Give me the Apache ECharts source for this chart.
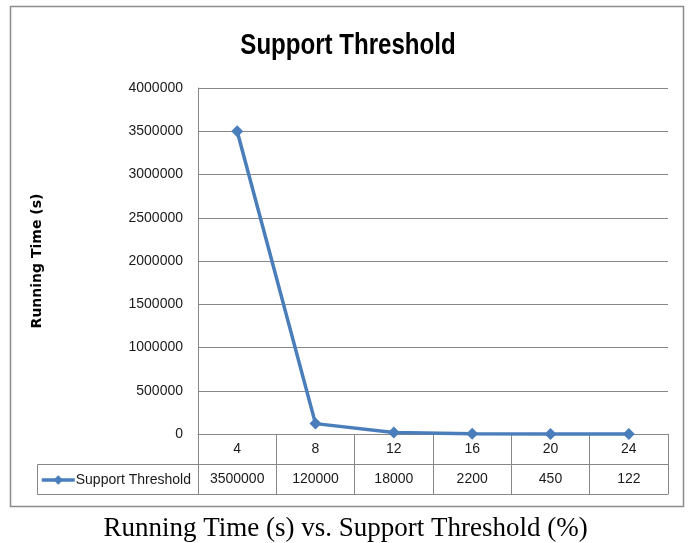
<!DOCTYPE html>
<html>
<head>
<meta charset="utf-8">
<script src="https://cdn.jsdelivr.net/npm/echarts@6/dist/echarts.min.js"></script>
<style>
  html, body { margin: 0; padding: 0; background: #fff; }
  #chart { width: 691px; height: 543px; }
</style>
</head>
<body>
<div id="chart"></div>
<script>
// Support threshold (%) on the category axis
const categories = ['4', '8', '12', '16', '20', '24'];
// Running time (s) for each threshold
const runningTime = [3500000, 120000, 18000, 2200, 450, 122];
const seriesName = 'Support Threshold';
// Value axis range and step
const yMin = 0;
const yMax = 4000000;
const yStep = 500000;

// Plot box and data-table geometry
const W = 691, H = 543;
const plot = { left: 198, top: 88, right: 23, bottom: 109 };
const rowH = 30;
const tableLeft = 37;
const gridColor = '#878787';
const lineColor = '#4a7ebb';
const textColor = '#1a1a1a';
const uiFont = "'Liberation Sans', Arial, sans-serif";

const chart = echarts.init(document.getElementById('chart'), null, { renderer: 'canvas' });

const axisBottom = H - plot.bottom;

const tableAxis = (offset, labels, showTicks) => ({
  type: 'category',
  position: 'bottom',
  offset: offset,
  data: labels,
  boundaryGap: true,
  axisLine: { show: true, lineStyle: { color: gridColor, width: 1 } },
  axisTick: { show: showTicks, inside: false, length: rowH, lineStyle: { color: gridColor, width: 1 } },
  axisLabel: {
    show: showTicks, margin: 8, fontSize: 14, color: textColor, fontFamily: uiFont
  },
  splitLine: { show: false }
});

chart.setOption({
  animation: false,
  backgroundColor: '#fff',
  title: {
    text: 'Running Time (s) vs. Support Threshold (%)',
    left: 'center',
    top: 510,
    textStyle: {
      fontFamily: "'Liberation Serif', 'Times New Roman', serif",
      fontWeight: 'normal', fontSize: 27, color: '#000'
    }
  },
  legend: {
    data: [seriesName],
    left: tableLeft + 3,
    top: axisBottom + rowH + 9,
    padding: 0,
    itemWidth: 33,
    itemHeight: 12,
    itemGap: 2,
    lineStyle: { width: 3.5 },
    textStyle: { fontSize: 14, color: textColor, fontFamily: uiFont, padding: [0, 0, 0, -4] }
  },
  grid: {
    left: plot.left, top: plot.top, right: plot.right, bottom: plot.bottom,
    containLabel: false
  },
  xAxis: [
    tableAxis(0, categories, true),
    tableAxis(rowH, runningTime.map(String), true),
    tableAxis(rowH * 2, categories, false)
  ],
  yAxis: {
    type: 'value',
    min: yMin, max: yMax, interval: yStep,
    name: 'Running Time (s)',
    nameLocation: 'middle',
    nameGap: 154,
    nameTextStyle: {
      fontFamily: "'DejaVu Sans', Verdana, sans-serif",
      fontWeight: 'bold', fontSize: 14, color: '#000'
    },
    axisLine: { show: true, lineStyle: { color: gridColor, width: 1 } },
    axisTick: { show: false },
    axisLabel: {
      margin: 15, fontSize: 14, color: textColor, fontFamily: uiFont,
      formatter: (v) => String(v)
    },
    splitLine: { show: true, lineStyle: { color: gridColor, width: 1 } }
  },
  series: [{
    name: seriesName,
    type: 'line',
    xAxisIndex: 0,
    data: runningTime,
    symbol: 'diamond',
    symbolSize: 12,
    lineStyle: { color: lineColor, width: 3.5 },
    itemStyle: { color: lineColor },
    clip: false
  }],
  graphic: [
    // outer chart frame
    {
      type: 'rect',
      shape: { x: 10.5, y: 6.5, width: 673, height: 500 },
      style: { fill: null, stroke: '#8c8c8c', lineWidth: 1.5 },
      z: -1
    },
    // chart heading, narrowed horizontally
    {
      type: 'text',
      x: 348,
      y: 46,
      scaleX: 0.83,
      style: {
        text: 'Support Threshold',
        font: "bold 29px 'Liberation Sans', Arial, sans-serif",
        fill: '#000',
        textAlign: 'center',
        textVerticalAlign: 'middle'
      }
    },
    // legend cell of the data table
    {
      type: 'rect',
      shape: { x: tableLeft + 0.5, y: axisBottom + rowH + 0.5, width: plot.left - tableLeft, height: rowH },
      style: { fill: null, stroke: gridColor, lineWidth: 1 },
      z: 1
    }
  ]
});
</script>
</body>
</html>
